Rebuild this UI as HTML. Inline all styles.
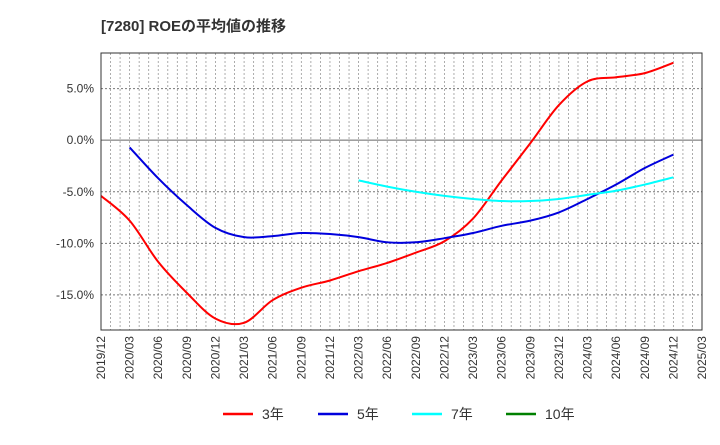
<!DOCTYPE html>
<html><head><meta charset="utf-8"><style>
body{margin:0;background:#fff;}
svg text{font-family:"Liberation Sans","Noto Sans CJK JP",sans-serif;}
</style></head><body>
<svg id="chart" width="720" height="440" xmlns="http://www.w3.org/2000/svg">
<text x="101" y="31" font-size="15" font-weight="bold" fill="#333">[7280]  ROEの平均値の推移</text>
<g id="grid"></g><g id="series"></g><g id="axes"></g>
<g>
<line x1="223" y1="414" x2="253" y2="414" stroke="#ff0000" stroke-width="2.5"/><text x="262" y="419" font-size="14" fill="#333">3年</text>
<line x1="318" y1="414" x2="348" y2="414" stroke="#0000dd" stroke-width="2.5"/><text x="357" y="419" font-size="14" fill="#333">5年</text>
<line x1="412" y1="414" x2="442" y2="414" stroke="#00ffff" stroke-width="2.5"/><text x="451" y="419" font-size="14" fill="#333">7年</text>
<line x1="506" y1="414" x2="536" y2="414" stroke="#008000" stroke-width="2.5"/><text x="545" y="419" font-size="14" fill="#333">10年</text>
</g>
</svg>
<script>
const xLabels=["2019/12","2020/03","2020/06","2020/09","2020/12","2021/03","2021/06","2021/09","2021/12","2022/03","2022/06","2022/09","2022/12","2023/03","2023/06","2023/09","2023/12","2024/03","2024/06","2024/09","2024/12","2025/03"];
const yTicks=[5,0,-5,-10,-15];
const yTickLabels=["5.0%","0.0%","-5.0%","-10.0%","-15.0%"];
const s3=[-5.4,-7.8,-11.8,-14.8,-17.3,-17.7,-15.5,-14.3,-13.6,-12.7,-11.9,-10.9,-9.8,-7.6,-3.9,-0.3,3.4,5.7,6.1,6.5,7.5];
const s5=[null,-0.7,-3.7,-6.3,-8.5,-9.4,-9.3,-9.0,-9.1,-9.4,-9.9,-9.9,-9.5,-9.0,-8.3,-7.8,-7.0,-5.7,-4.3,-2.7,-1.4];
const s7=[null,null,null,null,null,null,null,null,null,-3.9,-4.5,-5.0,-5.4,-5.7,-5.9,-5.9,-5.7,-5.3,-4.9,-4.3,-3.6];
const L=101,R=702,T=53,B=330,yMax=8.45,yMin=-18.4;
const NS="http://www.w3.org/2000/svg";
const X=i=>L+(R-L)*i/(xLabels.length-1);
const Y=v=>T+(B-T)*(yMax-v)/(yMax-yMin);
function mk(tag,attrs,parent){const e=document.createElementNS(NS,tag);for(const k in attrs)e.setAttribute(k,attrs[k]);parent.appendChild(e);return e;}
const grid=document.getElementById('grid'),axes=document.getElementById('axes'),ser=document.getElementById('series');
for(let m=1;m<(xLabels.length-1)*3;m++){const x=L+(R-L)*m/((xLabels.length-1)*3);
 const l=mk('line',{x1:x,x2:x,y1:T,y2:B,stroke:'#999','stroke-dasharray':'2,2','stroke-width':0.8},grid);
 
 }
yTicks.forEach((v,i)=>{const y=Y(v);
 const l=mk('line',{x1:L,x2:R,y1:y,y2:y,stroke:v===0?'#666':'#777','stroke-dasharray':v===0?'':'2,2','stroke-width':1},grid);
 
 
 const t=mk('text',{x:L-7,y:y+4,'font-size':12,'text-anchor':'end',fill:'#333'},axes);t.textContent=yTickLabels[i];
 
 });
xLabels.forEach((s,i)=>{const x=X(i);
 const t=mk('text',{x:0,y:0,'font-size':12,'text-anchor':'end',fill:'#333',transform:`translate(${x+4},336) rotate(-90)`},axes);t.textContent=s;
 
 });
const fr=mk('rect',{x:L,y:T,width:R-L,height:B-T,fill:'none',stroke:'#333','stroke-width':1},axes);


function path(arr){const p=[];arr.forEach((v,i)=>{if(v!==null)p.push([X(i),Y(v)]);});
 let d=`M${p[0][0]},${p[0][1]}`;
 for(let i=0;i<p.length-1;i++){const p0=p[Math.max(0,i-1)],p1=p[i],p2=p[i+1],p3=p[Math.min(p.length-1,i+2)];
  d+=` C${p1[0]+(p2[0]-p0[0])/6},${p1[1]+(p2[1]-p0[1])/6} ${p2[0]-(p3[0]-p1[0])/6},${p2[1]-(p3[1]-p1[1])/6} ${p2[0]},${p2[1]}`;}
 return d;}
[[s3,'#ff0000','line-3y'],[s5,'#0000dd','line-5y'],[s7,'#00ffff','line-7y']].forEach(([a,c,n])=>{
 const e=mk('path',{d:path(a),fill:'none',stroke:c,'stroke-width':2},ser);
 
 });
</script>
</body></html>
